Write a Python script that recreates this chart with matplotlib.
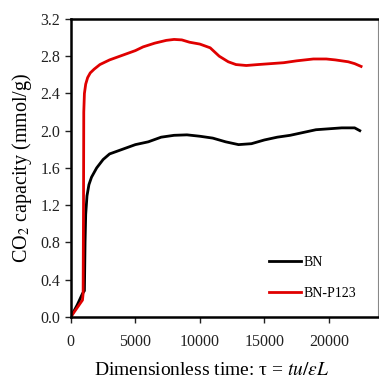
import matplotlib
matplotlib.use('Agg')
import matplotlib.pyplot as plt

# Daten
tau_bn = [0, 500, 900, 1050, 1100, 1150, 1250, 1400, 1600, 2000, 2500, 3000, 4000, 5000, 6000,
          7000, 8000, 9000, 10000, 11000, 12000, 13000, 14000, 15000, 16000, 17000, 18000,
          19000, 20000, 21000, 22000, 22400]
cap_bn = [0, 0.13, 0.25, 0.28, 0.8, 1.1, 1.3, 1.42, 1.5, 1.6, 1.69, 1.75, 1.80, 1.85, 1.88,
          1.93, 1.95, 1.955, 1.94, 1.92, 1.88, 1.85, 1.86, 1.90, 1.93, 1.95, 1.98,
          2.01, 2.02, 2.03, 2.03, 2.0]

tau_p123 = [0, 500, 900, 950, 980, 1000, 1050, 1150, 1300, 1500, 1800, 2250, 3000, 4000, 5000,
            5600, 6500, 7400, 8000, 8600, 9200, 10000, 10800, 11500, 12200, 12800, 13600,
            14500, 15500, 16500, 17500, 18800, 19800, 20500, 21500, 22000, 22500]
cap_p123 = [0, 0.1, 0.18, 0.25, 1.2, 2.2, 2.4, 2.5, 2.57, 2.62, 2.66, 2.71, 2.76, 2.81, 2.86,
            2.90, 2.94, 2.97, 2.98, 2.975, 2.95, 2.93, 2.89, 2.80, 2.74, 2.71, 2.70,
            2.71, 2.72, 2.73, 2.75, 2.77, 2.77, 2.76, 2.74, 2.72, 2.69]

x_ticks = [0, 5000, 10000, 15000, 20000]
y_ticks = [0.0, 0.4, 0.8, 1.2, 1.6, 2.0, 2.4, 2.8, 3.2]

plt.rcParams['font.family'] = ['Liberation Serif', 'DejaVu Serif']
plt.rcParams['mathtext.fontset'] = 'stix'

fig = plt.figure(figsize=(3.79, 3.79), dpi=100)
ax = fig.add_axes([0.187, 0.164, 0.81, 0.786])

ax.plot(tau_bn, cap_bn, color='black', lw=2.0, label='BN')
ax.plot(tau_p123, cap_p123, color='#e00000', lw=2.0, label='BN-P123')

ax.set_xlim(0, 23800)
ax.set_ylim(0, 3.2)
ax.set_xticks(x_ticks)
ax.set_yticks(y_ticks)
ax.set_yticklabels([f'{v:.1f}' for v in y_ticks])
ax.tick_params(direction='out', length=4, width=1, labelsize=11.5, colors='#222222')
ax.tick_params(axis='x', pad=8)

for s in ['left', 'bottom', 'top']:
    ax.spines[s].set_linewidth(1.8)
    ax.spines[s].set_color('black')
ax.spines['right'].set_linewidth(0.8)
ax.spines['right'].set_color('#888888')

ax.set_xlabel('Dimensionless time: τ = $tu/\\varepsilon L$', fontsize=14)
ax.xaxis.set_label_coords(0.46, -0.15, transform=ax.transAxes)
ax.xaxis.label.set_va('top')
ax.set_ylabel('CO$_2$ capacity (mmol/g)', fontsize=14.5, labelpad=5)

ax.legend(loc='lower right', bbox_to_anchor=(0.97, 0.015), frameon=False, fontsize=10,
          handlelength=2.3, handletextpad=0.2, labelspacing=1.3)

fig.savefig('out.png', dpi=100)
